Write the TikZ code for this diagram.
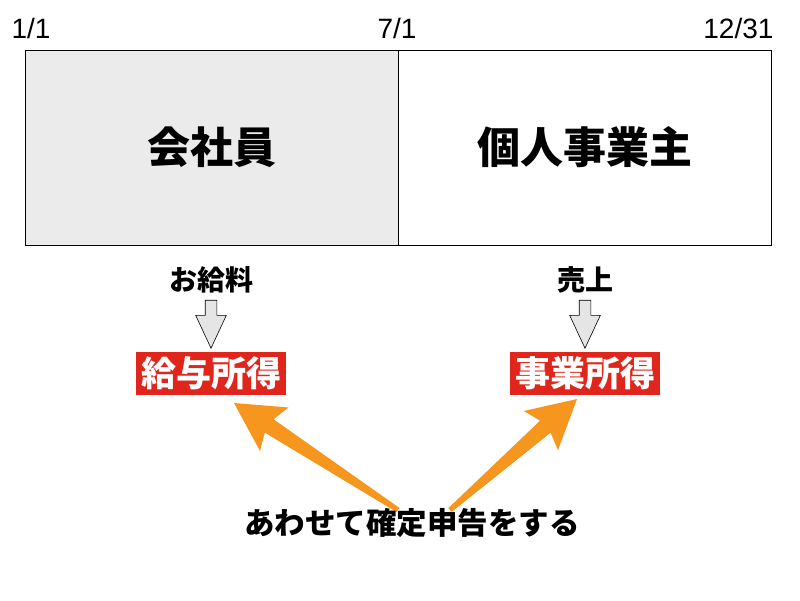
\documentclass[tikz,border=0pt]{standalone}
\usepackage{fontspec}
\setmainfont{Noto Sans CJK JP}
\newfontfamily\datefont{Liberation Sans}
\usetikzlibrary{positioning,calc,shapes.arrows}

\definecolor{boxgray}{HTML}{EBEBEB}
\definecolor{incomered}{HTML}{E0261C}
\definecolor{arroworange}{HTML}{F7961E}

\tikzset{
  period/.style={draw, line width=0.8pt, minimum width=373, minimum height=195, font=\fontsize{43}{45}\selectfont\bfseries},
  datelbl/.style={anchor=base, font=\datefont\fontsize{28}{30}\selectfont},
  source/.style={font=\fontsize{28}{30}\selectfont\bfseries},
  income/.style={fill=incomered, text=white, minimum width=150, minimum height=43, inner sep=0pt, font=\fontsize{35}{37}\selectfont\bfseries},
  flow/.style={single arrow, draw, line width=0.6pt, fill=gray!20, minimum height=48, minimum width=30, inner sep=5.5pt, single arrow head extend=9.5pt, single arrow tip angle=50, shape border rotate=270}
}

\begin{document}
\begin{tikzpicture}[x=1pt, y=-1pt]
\useasboundingbox (0,0) rectangle (800,600);

% Year split into two periods
\node[period, fill=boxgray] (emp) at (211.5,147.5) {会社員};
\node[period, fill=white] (self) at (584.5,147.5) {個人事業主};

% Dates above the bar
\node[datelbl, anchor=base west] (d1) at (8,38) {1/1};
\node[datelbl] (d2) at (397,38) {7/1};
\node[datelbl, anchor=base east] (d3) at (777,38) {12/31};

% Kinds of income
\foreach \x/\src/\inc/\nm in {211/お給料/給与所得/sal, 585/売上/事業所得/biz}
{
  \node[source] (\nm src) at (\x,280) {\src};
  \node[income] (\nm) at (\x,373) {\inc};
  \node[flow] (\nm arr) at (\x,318) {};
}

% Orange arrows from the filing note
\coordinate (tipL) at (234,403);
\coordinate (baseL) at (398,510);
\coordinate (tipR) at (577,399);
\coordinate (baseR) at (450,510);
\foreach \t/\b in {tipL/baseL, tipR/baseR}
{
  \coordinate (hd) at ($(\t)!48pt!(\b)$);
  \coordinate (sh) at ($(\t)!42pt!(\b)$);
  \fill[arroworange] (\t) -- ($(hd)!26pt!90:(\t)$) -- ($(sh)!8pt!90:(\t)$)
    -- ($(\b)!2.5pt!90:(\t)$) -- ($(\b)!2.5pt!-90:(\t)$)
    -- ($(sh)!8pt!-90:(\t)$) -- ($(hd)!26pt!-90:(\t)$) -- cycle;
}

% Filing note
\node[font=\fontsize{30.5}{32}\selectfont\bfseries] (note) at (412,523) {あわせて確定申告をする};

\end{tikzpicture}
\end{document}
